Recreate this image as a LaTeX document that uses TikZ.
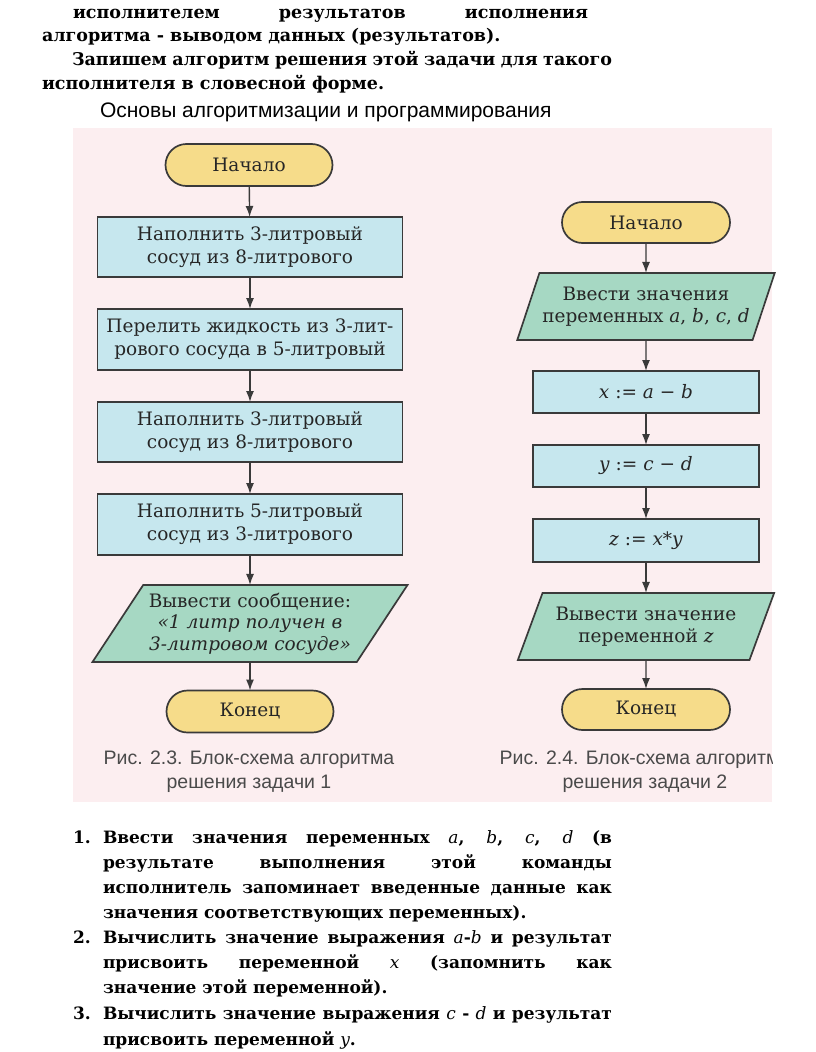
\documentclass[tikz,border=0pt]{standalone}
\usepackage{fontspec}
\setmainfont{DejaVu Serif}
\setsansfont{Liberation Sans}
\usetikzlibrary{shapes.geometric,shapes.misc,arrows.meta}
\definecolor{bgpink}{HTML}{FCEEF0}
\definecolor{term}{HTML}{F6DC8A}
\definecolor{proc}{HTML}{C6E7EE}
\definecolor{inout}{HTML}{A6D8C3}
\definecolor{edge}{HTML}{3A3A3A}
\definecolor{capgray}{HTML}{4A4A4A}
\newcommand{\vn}[1]{{\mdseries\itshape #1}}

\begin{document}
\begin{tikzpicture}[x=1pt,y=-1pt,
	every node/.style={inner sep=0pt,outer sep=0pt},
	txt/.style={anchor=base west,font=\bfseries\fontsize{17}{20}\selectfont},
	hdr/.style={anchor=base west,font=\bfseries\fontsize{17.5}{20}\selectfont},
	captext/.style={align=center,text=capgray,font=\sffamily\fontsize{19.5}{24}\selectfont},
	termbox/.style={rounded rectangle,draw=edge,line width=1.7pt,fill=term,minimum width=167pt,minimum height=42pt,text=black!85,font=\fontsize{18.5}{23}\selectfont},
	procbox/.style={rectangle,draw=edge,line width=1.7pt,fill=proc,align=center,text=black!85,font=\fontsize{18.5}{23}\selectfont},
	iobox/.style={trapezium,trapezium stretches=true,draw=edge,line width=1.7pt,fill=inout,align=center,text=black!85,font=\fontsize{18.5}{21.5}\selectfont},
	arr/.style={-{Latex[length=11pt,width=8pt]},line width=1.4pt,draw=edge}]
	\useasboundingbox (0,0) rectangle (816,1052);
	\fill [bgpink] (73,128) rectangle (772,802);

	\node [hdr] (h1) at (73,19) {\makebox[515pt][s]{исполнителем результатов исполнения}};
	\node [hdr] (h2) at (42,41) {алгоритма - выводом данных (результатов).};
	\node [hdr] (h3) at (72,65) {\makebox[540pt][s]{Запишем алгоритм решения этой задачи для такого}};
	\node [hdr] (h4) at (42,89) {исполнителя в словесной форме.};
	\node [anchor=base west,font=\sffamily\fontsize{21}{24}\selectfont] (h5) at (100,117) {Основы алгоритмизации и программирования};

	\node [termbox] (s1) at (249,165) {Начало};
	\node [procbox,minimum width=305pt,minimum height=60pt] (p1) at (250,247) {Наполнить 3-литровый\\сосуд из 8-литрового};
	\node [procbox,minimum width=305pt,minimum height=61pt] (p2) at (250,339.5) {Перелить жидкость из 3-лит-\\рового сосуда в 5-литровый};
	\node [procbox,minimum width=305pt,minimum height=60pt] (p3) at (250,432) {Наполнить 3-литровый\\сосуд из 8-литрового};
	\node [procbox,minimum width=305pt,minimum height=61pt] (p4) at (250,524.5) {Наполнить 5-литровый\\сосуд из 3-литрового};
	\node [iobox,trapezium left angle=52,trapezium right angle=128,minimum width=316pt,minimum height=77pt] (o1) at (250,623.5) {Вывести сообщение:\\\textit{«1 литр получен в}\\\textit{3-литровом сосуде»}};
	\node [termbox] (e1) at (250,711.5) {Конец};
	\draw [arr] (s1) -- (p1);
	\draw [arr] (p1) -- (p2);
	\draw [arr] (p2) -- (p3);
	\draw [arr] (p3) -- (p4);
	\draw [arr] (p4) -- (o1);
	\draw [arr] (o1) -- (e1);

	\node [termbox,minimum width=168pt,minimum height=41pt] (s2) at (646,222.5) {Начало};
	\node [iobox,trapezium left angle=61,trapezium right angle=119,minimum width=258pt,minimum height=67pt] (i2) at (646,306.5) {Ввести значения\\переменных \textit{a}, \textit{b}, \textit{c}, \textit{d}};
	\node [procbox,minimum width=226pt,minimum height=42pt] (x2) at (646,392) {\textit{x} := \textit{a} − \textit{b}};
	\node [procbox,minimum width=226pt,minimum height=42pt] (y2) at (646,466) {\textit{y} := \textit{c} − \textit{d}};
	\node [procbox,minimum width=226pt,minimum height=43pt] (z2) at (646,540.5) {\textit{z} := \textit{x}*\textit{y}};
	\node [iobox,trapezium left angle=61,trapezium right angle=119,minimum width=257pt,minimum height=67pt] (o2) at (646,626.5) {Вывести значение\\переменной \textit{z}};
	\node [termbox,minimum width=168pt,minimum height=41pt] (e2) at (646,709.5) {Конец};
	\draw [arr] (s2) -- (i2);
	\draw [arr] (i2) -- (x2);
	\draw [arr] (x2) -- (y2);
	\draw [arr] (y2) -- (z2);
	\draw [arr] (z2) -- (o2);
	\draw [arr] (o2) -- (e2);

	\begin{scope}
		\clip (73,128) rectangle (772,802);
		\node [captext] (c1) at (249,772) {Рис. 2.3. Блок-схема алгоритма\\решения задачи 1};
		\node [captext] (c2) at (645,772) {Рис. 2.4. Блок-схема алгоритма\\решения задачи 2};
	\end{scope}

	\node [txt] (n1) at (73,843) {1.};
	\node [txt] (l1) at (103,843) {\makebox[509pt][s]{Ввести значения переменных \vn{a}, \vn{b}, \vn{c}, \vn{d} (в}};
	\node [txt] (l2) at (103,868) {\makebox[509pt][s]{результате выполнения этой команды}};
	\node [txt] (l3) at (103,893) {\makebox[509pt][s]{исполнитель запоминает введенные данные как}};
	\node [txt] (l4) at (103,918) {значения соответствующих переменных).};
	\node [txt] (n2) at (73,943) {2.};
	\node [txt] (l5) at (103,943) {\makebox[509pt][s]{Вычислить значение выражения \vn{a}-\vn{b} и результат}};
	\node [txt] (l6) at (103,968) {\makebox[509pt][s]{присвоить переменной \vn{x} (запомнить как}};
	\node [txt] (l7) at (103,993) {значение этой переменной).};
	\node [txt] (n3) at (73,1019) {3.};
	\node [txt] (l8) at (103,1019) {\makebox[509pt][s]{Вычислить значение выражения \vn{c} - \vn{d} и результат}};
	\node [txt] (l9) at (103,1045) {присвоить переменной \vn{y}.};
\end{tikzpicture}
\end{document}
